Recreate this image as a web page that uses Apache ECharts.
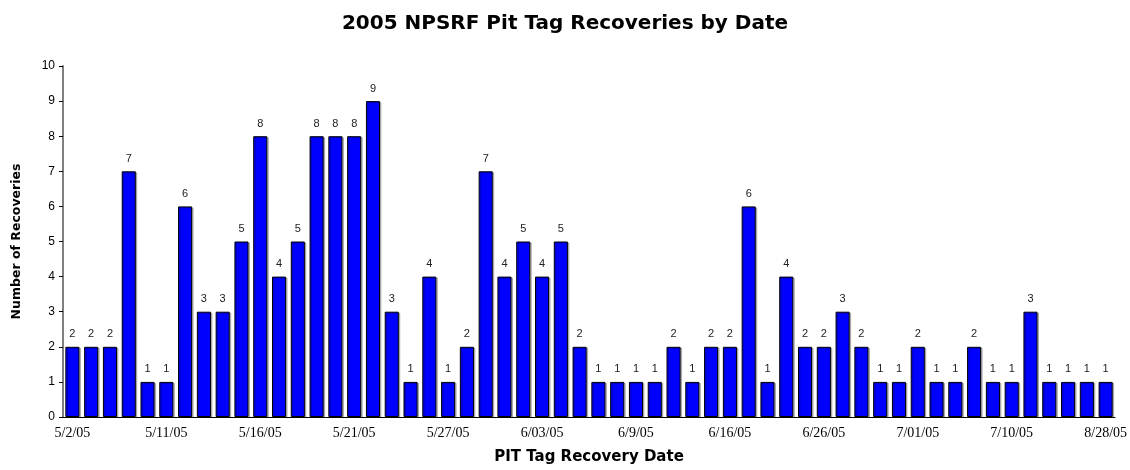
<!DOCTYPE html>
<html>
<head>
<meta charset="utf-8">
<script src="https://cdn.jsdelivr.net/npm/echarts@6/dist/echarts.min.js"></script>
<style>
html, body { margin: 0; padding: 0; background: #fff; }
#pitchart { width: 1130px; height: 470px; }
</style>
</head>
<body>
<div id="pitchart"></div>
<script>
// tick labels shown every 5th day, other dates not readable in the source
var tickLabels = ['5/2/05', '5/11/05', '5/16/05', '5/21/05', '5/27/05', '6/03/05',
	'6/9/05', '6/16/05', '6/26/05', '7/01/05', '7/10/05', '8/28/05'];
var recoveries = [2, 2, 2, 7, 1, 1, 6, 3, 3, 5, 8, 4, 5, 8, 8, 8, 9, 3, 1, 4,
	1, 2, 7, 4, 5, 4, 5, 2, 1, 1, 1, 1, 2, 1, 2, 2, 6, 1, 4, 2,
	2, 3, 2, 1, 1, 2, 1, 1, 2, 1, 1, 3, 1, 1, 1, 1];
var categories = recoveries.map(function (v, i) {
	return i % 5 === 0 ? tickLabels[i / 5] : '';
});

var option = {
	animation: false,
	title: {
		text: '2005 NPSRF Pit Tag Recoveries by Date',
		left: 'center',
		top: 9,
		textStyle: {
			fontFamily: 'DejaVu Sans',
			fontSize: 20,
			fontWeight: 'bold',
			color: '#000'
		}
	},
	grid: {
		top: 66,
		right: 13,
		bottom: 49,
		left: 63
	},
	xAxis: {
		type: 'category',
		data: categories,
		name: 'PIT Tag Recovery Date',
		nameLocation: 'middle',
		nameGap: 33,
		nameTextStyle: {
			fontFamily: 'DejaVu Sans',
			fontSize: 15,
			fontWeight: 'bold',
			color: '#000'
		},
		axisLine: { lineStyle: { color: '#000', width: 1 } },
		axisTick: { interval: 0, length: 4, lineStyle: { color: '#000' } },
		axisLabel: {
			interval: 4,
			margin: 9,
			fontFamily: 'Liberation Serif',
			fontSize: 14,
			color: '#000'
		}
	},
	yAxis: {
		type: 'value',
		min: 0,
		max: 10,
		interval: 1,
		name: 'Number of Recoveries',
		nameLocation: 'middle',
		nameRotate: 90,
		nameGap: 40,
		nameTextStyle: {
			fontFamily: 'DejaVu Sans',
			fontSize: 12.5,
			fontWeight: 'bold',
			color: '#000'
		},
		splitLine: { show: false },
		axisLine: { show: true, lineStyle: { color: '#808080', width: 2 } },
		axisTick: { show: true, length: 4, lineStyle: { color: '#000' } },
		axisLabel: {
			margin: 8,
			fontFamily: 'Liberation Sans',
			fontSize: 12,
			color: '#000'
		}
	},
	series: [{
		type: 'bar',
		data: recoveries,
		barCategoryGap: '25%',
		itemStyle: {
			color: '#0000ff',
			borderColor: '#000',
			borderWidth: 1,
			shadowColor: 'rgba(0,0,0,0.25)',
			shadowOffsetX: 1.5,
			shadowOffsetY: 1
		},
		label: {
			show: true,
			position: 'top',
			distance: 7,
			fontFamily: 'Liberation Sans',
			fontSize: 11,
			color: '#222'
		}
	}]
};

var chart = echarts.init(document.getElementById('pitchart'));
chart.setOption(option);
</script>
</body>
</html>
